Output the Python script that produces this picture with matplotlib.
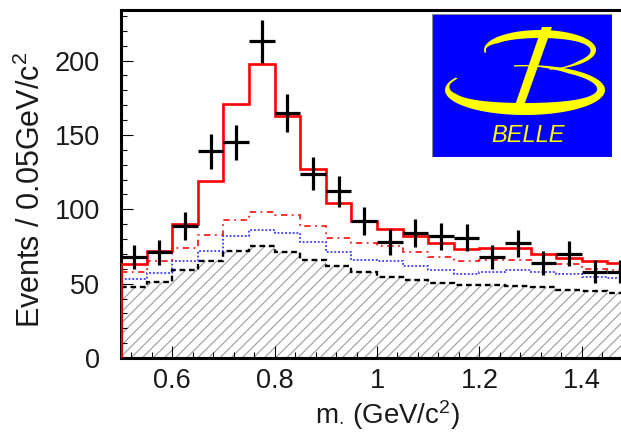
import numpy as np
import matplotlib
matplotlib.use("Agg")
import matplotlib.pyplot as plt
from matplotlib.patches import Rectangle, Polygon

plt.rcParams["font.family"] = ["Liberation Sans", "DejaVu Sans"]
plt.rcParams["mathtext.fontset"] = "custom"
plt.rcParams["mathtext.rm"] = "Liberation Sans"
plt.rcParams["mathtext.it"] = "Liberation Sans:italic"
plt.rcParams["hatch.linewidth"] = 0.85

# 20 bins of 0.05 GeV/c^2 from 0.5 to 1.5
mass_edges = np.linspace(0.5, 1.5, 21)

# observed events per bin and their uncertainties
events = [68, 71, 89, 139, 145, 213, 165, 124, 112, 92,
          78, 84, 82, 81, 68, 77, 64, 70, 58, 58]
event_err = [8.2, 8.4, 9.4, 11.8, 12.0, 14.6, 12.8, 11.1, 10.6, 9.6,
             8.8, 9.2, 9.1, 9.0, 8.2, 8.8, 8.0, 8.4, 7.6, 7.6]

# fit: total and cumulative background components
fit_total = [63, 72, 90, 119, 171, 198, 163, 127, 104, 92,
             87, 82, 77, 73, 74, 74, 70, 67, 65, 64]
bkg_upper = [58, 65, 74, 83, 93, 98, 96, 89, 81, 77,
             75, 71, 68, 65, 66, 66, 64, 63, 60, 59]
bkg_mid = [53, 57, 65, 72, 82, 86, 84, 78, 71, 66,
           65.5, 62, 59, 56.5, 58, 59.5, 57.5, 56.5, 54.5, 53.5]
bkg_low = [48, 51, 59, 65, 72, 75, 71.5, 66, 62, 57.5,
           54.5, 52.5, 50.5, 49, 49, 48.5, 47.5, 46, 45, 44]

x_ticks = [0.6, 0.8, 1.0, 1.2, 1.4]
x_tick_labels = ["0.6", "0.8", "1", "1.2", "1.4"]
y_ticks = [0, 50, 100, 150, 200]
y_tick_labels = ["0", "50", "100", "150", "200"]

W, H = 621, 436
fig = plt.figure(figsize=(W / 100, H / 100), dpi=100)
ax = fig.add_axes([121 / W, 78 / H, 512 / W, 348 / H])

centers = 0.5 * (mass_edges[:-1] + mass_edges[1:])
half_w = 0.5 * np.diff(mass_edges)

# hatched lowest background
ax.stairs(bkg_low, mass_edges, baseline=0, fill=True, facecolor="white",
          edgecolor="#a0a0a0", hatch="///", linewidth=0, zorder=1)
ax.stairs(bkg_low, mass_edges, baseline=None, color="black", lw=1.7,
          linestyle=(0, (2.4, 1.6)), zorder=2)
ax.stairs(bkg_mid, mass_edges, baseline=None, color="#3a3aff", lw=1.3,
          linestyle=(0, (1, 1.1)), zorder=3)
ax.stairs(bkg_upper, mass_edges, baseline=None, color="#ff2020", lw=1.3,
          linestyle=(0, (3.5, 2.5, 1, 2.5)), zorder=4)
ax.stairs(fit_total, mass_edges, baseline=0, color="#ff0000", lw=1.9, zorder=5)

ax.errorbar(centers, events, yerr=event_err, xerr=half_w, fmt="none",
            ecolor="black", elinewidth=2.3, capsize=0, zorder=6)

ax.set_xlim(0.5, 1.5)
ax.set_ylim(0, 234)
ax.set_xticks(x_ticks)
ax.set_xticklabels(x_tick_labels)
ax.set_yticks(y_ticks)
ax.set_yticklabels(y_tick_labels)
ax.set_xticks(np.arange(0.52, 1.5, 0.04), minor=True)
ax.set_yticks(np.arange(0, 234, 10), minor=True)
ax.tick_params(which="both", direction="in", top=False, right=False,
               colors="black", labelcolor="#1a1a1a", labelsize=19.5)
ax.tick_params(which="major", length=8.5, width=0.8)
ax.tick_params(which="minor", length=4.3, width=0.8)
ax.tick_params(axis="y", pad=15)
ax.tick_params(axis="x", pad=7)
for s in ax.spines.values():
    s.set_linewidth(2.2)

fig.text(31 / W, 1 - 190 / H, r"Events / 0.05GeV/c$^{2}$", rotation=90,
         ha="center", va="center", fontsize=22, color="#1a1a1a")
fig.text(388 / W, 1 - 415 / H, r"m$_{\cdot}$ (GeV/c$^{2}$)",
         ha="center", va="center", fontsize=20, color="#1a1a1a")

# Belle logo
lax = fig.add_axes([432 / W, 1 - 157 / H, 180 / W, 143 / H])
lax.set_xlim(0, 180)
lax.set_ylim(0, 143)
lax.axis("off")
lax.add_patch(Rectangle((0, 0), 180, 143, facecolor="#0000ff",
                        edgecolor="#888888", lw=0.8))
yellow = "#ffff00"


def crescent(cx, cy, a, b, t1, t2, width_fn):
    th = np.radians(np.linspace(t1, t2, 240))
    w = width_fn(th)
    outer = np.column_stack([cx + a * np.cos(th), cy + b * np.sin(th)])
    inner = np.column_stack([cx + (a - w) * np.cos(th), cy + (b - w) * np.sin(th)])
    return np.vstack([outer, inner[::-1]])


def taper(th, t1, t2):
    s = (th - np.radians(t1)) / (np.radians(t2) - np.radians(t1))
    return np.clip(np.minimum(s, 1 - s) * 7, 0.35, 1.0)


upper = crescent(108, 107, 56, 20, -80, 188,
                 lambda th: (3 + 5 * (0.5 + 0.5 * np.sin(th))) * taper(th, -80, 188))
lower = crescent(93, 67, 80, 25, 150, 458,
                 lambda th: (4 + 8 * (0.5 - 0.5 * np.sin(th))) * taper(th, 150, 458))
lax.add_patch(Polygon(upper, closed=True, facecolor=yellow, edgecolor="none"))
lax.add_patch(Polygon(lower, closed=True, facecolor=yellow, edgecolor="none"))
lax.add_patch(Polygon([(110, 130), (120, 130), (89, 43), (80, 43)], closed=True,
                      facecolor=yellow, edgecolor="none"))
lax.text(96, 22, "BELLE", color=yellow, fontsize=17, style="italic",
         ha="center", va="center")

fig.savefig("out.png", dpi=100)
